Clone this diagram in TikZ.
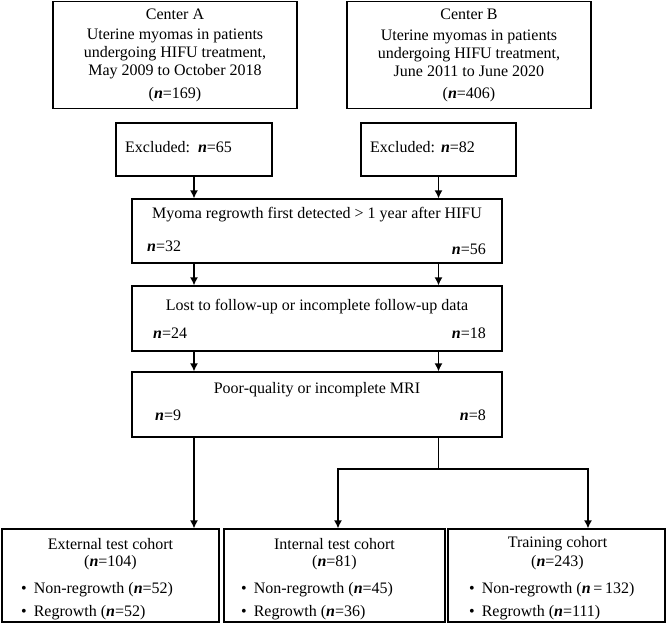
\documentclass[tikz,border=0pt]{standalone}
\usepackage{fontspec}
\setmainfont{Liberation Serif}
\usetikzlibrary{arrows.meta}
\newcommand{\nv}{{\bfseries\itshape n}}
\begin{document}
\begin{tikzpicture}[x=1pt,y=-1pt,
  box/.style={draw, line width=1.3pt, inner sep=0pt},
  txt/.style={inner sep=0pt, font=\fontsize{16}{18}\selectfont},
  arr/.style={line width=1.3pt, -{Latex[length=8pt,width=8pt]}},
  ln/.style={line width=1.3pt}]
\useasboundingbox (0,0) rectangle (667,626);
% top boxes
\node[box, minimum width=244pt, minimum height=107pt] (ca) at (175,55) {};
\node[box, minimum width=244pt, minimum height=107pt] (cb) at (469,55) {};
\node[txt] (ca1) at (175,14) {Center A};
\node[txt, align=center] (ca2) at (175,53.5) {Uterine myomas in patients\\undergoing HIFU treatment,\\May 2009 to October 2018};
\node[txt] (ca3) at (175,95) {(\nv=169)};
\node[txt] (cb1) at (469,14) {Center B};
\node[txt, align=center] (cb2) at (469,53.5) {Uterine myomas in patients\\undergoing HIFU treatment,\\June 2011 to June 2020};
\node[txt] (cb3) at (469,95) {(\nv=406)};
% excluded
\node[box, minimum width=156pt, minimum height=53pt] (exa) at (194,149.5) {};
\node[box, minimum width=155pt, minimum height=53pt] (exb) at (438.5,149.5) {};
\node[txt, anchor=west] (exat) at (125,147) {Excluded:\hspace{8pt}\nv=65};
\node[txt, anchor=west] (exbt) at (370,147) {Excluded:\hspace{6pt}\nv=82};
% middle boxes
\node[box, minimum width=370pt, minimum height=64pt] (my) at (317,231) {};
\node[box, minimum width=370pt, minimum height=65pt] (lo) at (317,318.5) {};
\node[box, minimum width=370pt, minimum height=65pt] (po) at (317,404.5) {};
\node[txt] (myt) at (317,215) {Myoma regrowth first detected > 1 year after HIFU};
\node[txt, anchor=west] (myl) at (147,246) {\nv=32};
\node[txt, anchor=east] (myr) at (486,249) {\nv=56};
\node[txt] (lot) at (317,307) {Lost to follow-up or incomplete follow-up data};
\node[txt, anchor=west] (lol) at (153,333) {\nv=24};
\node[txt, anchor=east] (lor) at (486,333) {\nv=18};
\node[txt] (pot) at (317,390) {Poor-quality or incomplete MRI};
\node[txt, anchor=west] (pol) at (155,415) {\nv=9};
\node[txt, anchor=east] (por) at (486,415) {\nv=8};
% bottom boxes
\node[box, minimum width=217pt, minimum height=93pt] (ext) at (110.5,575.5) {};
\node[box, minimum width=221pt, minimum height=93pt] (int) at (334.5,575.5) {};
\node[box, minimum width=217pt, minimum height=93pt] (tra) at (556.5,575.5) {};
\node[txt] (ext1) at (110.5,544) {External test cohort};
\node[txt] (ext2) at (110.5,563) {(\nv=104)};
\node[txt, anchor=west] (ext3) at (21,590) {\textbullet\hspace{7pt}Non-regrowth (\nv=52)};
\node[txt, anchor=west] (ext4) at (21,613) {\textbullet\hspace{7pt}Regrowth (\nv=52)};
\node[txt] (int1) at (334.5,544) {Internal test cohort};
\node[txt] (int2) at (334.5,563) {(\nv=81)};
\node[txt, anchor=west] (int3) at (241,590) {\textbullet\hspace{7pt}Non-regrowth (\nv=45)};
\node[txt, anchor=west] (int4) at (241,613) {\textbullet\hspace{7pt}Regrowth (\nv=36)};
\node[txt] (tra1) at (557.5,544) {Training cohort};
\node[txt] (tra2) at (557.5,563) {(\nv=243)};
\node[txt, anchor=west] (tra3) at (469,590) {\textbullet\hspace{7pt}Non-regrowth (\nv\,=\,132)};
\node[txt, anchor=west] (tra4) at (469,613) {\textbullet\hspace{7pt}Regrowth (\nv=111)};
% connectors
\draw[arr] (exa.south) -- (exa.south |- my.north);
\draw[arr] (exb.south) -- (exb.south |- my.north);
\draw[arr] (exa.south |- my.south) -- (exa.south |- lo.north);
\draw[arr] (exb.south |- my.south) -- (exb.south |- lo.north);
\draw[arr] (exa.south |- lo.south) -- (exa.south |- po.north);
\draw[arr] (exb.south |- lo.south) -- (exb.south |- po.north);
\draw[arr] (exa.south |- po.south) -- (exa.south |- ext.north);
\coordinate (sp) at (438.5,469);
\draw[ln] (exb.south |- po.south) -- (sp);
\draw[arr] (sp) -| (int.north -| 338,0);
\draw[arr] (sp) -| (tra.north -| 588,0);
\end{tikzpicture}
\end{document}
